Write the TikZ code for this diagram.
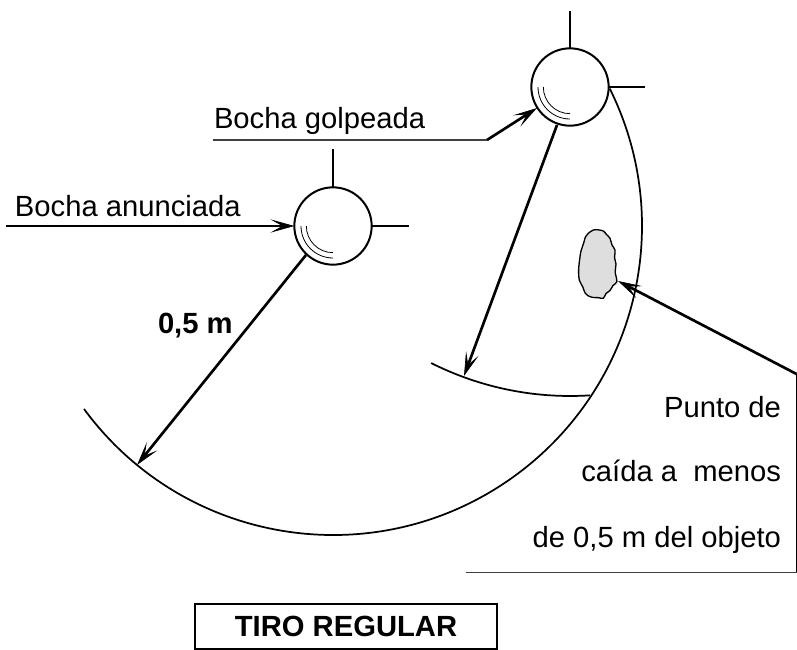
\documentclass[tikz,border=0pt]{standalone}
\usepackage{fontspec}
\setmainfont{Liberation Sans}
\usetikzlibrary{arrows.meta}
\tikzset{
  x=0.75pt,y=-0.75pt,
  ball/.style={circle,draw,line width=1.5pt,minimum size=58pt,inner sep=0pt,outer sep=0pt},
  tick/.style={line width=0.8pt},
  thin arc/.style={line width=1.3pt},
  sheen/.style={line width=0.6pt},
  lead/.style={line width=2pt,-{Stealth[length=18pt,width=10pt,inset=9pt,line width=0.5pt]}},
  leader/.style={line width=0.9pt,draw=black!75},
  lab/.style={inner sep=0pt,outer sep=0pt,font=\fontsize{21.9}{26}\selectfont,anchor=base west},
  labr/.style={lab,anchor=base east},
}
\begin{document}
\begin{tikzpicture}
\useasboundingbox (0,0) rectangle (797,650);
% balls
\node[ball] (b1) at (333,226) {};
\node[ball] (b2) at (570,87) {};
% ticks
\coordinate (t1) at (333,149); \coordinate (r1) at (409,226);
\coordinate (t2) at (570,11); \coordinate (r2) at (645,87);
\draw[tick] (b1.north) -- (t1);
\draw[tick] (b1.east) -- (r1);
\draw[tick] (b2.north) -- (t2);
\draw[tick] (b2.east) -- (r2);
% sheen
\draw[sheen] (b1.center) ++(180:24pt) arc (180:270:24pt);
\draw[sheen] (b1.center) ++(180:20pt) arc (180:270:20pt);
\draw[sheen] (b2.center) ++(180:24pt) arc (180:270:24pt);
\draw[sheen] (b2.center) ++(180:20pt) arc (180:270:20pt);
% big arcs
\draw[thin arc] (b1.center) ++(216.3:231.75pt) coordinate (A1s) arc (216.3:386.4:231.75pt) coordinate (A1e);
\draw[thin arc] (b2.center) ++(243.3:231.75pt) coordinate (A2s) arc (243.3:273.7:231.75pt) coordinate (A2e);
% radii
\coordinate (e1) at (137,465); \coordinate (s1) at (306,255);
\coordinate (e2) at (464,376); \coordinate (s2) at (557,125);
\draw[lead] (s1) -- (e1);
\draw[lead] (s2) -- (e2);
% leaders
\coordinate (ls1) at (6,226);
\draw[lead] (ls1) -- (b1.west);
\coordinate (l2a) at (213,140); \coordinate (l2b) at (487,140); \coordinate (l2c) at (537,108);
\draw[leader] (l2a) -- (l2b);
\draw[lead] (l2b) -- (l2c);
% blob
\draw[line width=1pt,fill=black!13] plot[smooth cycle,tension=0.5] coordinates {
 (593.3,230)(598,229.8)(603.3,231)(606.5,234.5)(610,238.3)(612,245)(615,250)(614.6,258)(616,264)(615.2,272)(616.9,281.7)(613,285.5)(610,290.5)(606,293.5)(603.3,298.3)(598,297.6)(593.3,297.5)(588.5,296)(585,292.8)(582.8,287)(579.3,280)(578.6,270)(579.6,260)(581,251)(583.6,243.3)(585.4,237)(588.3,233.3)};
% callout
\coordinate (p0) at (796.5,374); \coordinate (pt) at (618,281);
\coordinate (p1) at (796.5,572.5); \coordinate (p2) at (466,572.5);
\draw[lead] (p0) -- (pt);
\draw[tick] (p0) -- (p1);
\draw[leader] (p1) -- (p2);
% texts
\node[lab] (t_a) at (15,216) {Bocha anunciada};
\node[lab] (t_g) at (214,128) {Bocha golpeada};
\node[lab,font=\fontsize{21.9}{26}\selectfont\bfseries] (t_m) at (158,333) {0,5 m};
\node[labr] (t_p) at (781,417) {Punto de};
\node[labr] (t_c) at (781,481) {caída a\ \ menos};
\node[labr] (t_d) at (781,547) {de 0,5 m del objeto};
% box
\node[draw,line width=1.7pt,minimum width=226pt,minimum height=34pt,inner sep=0pt,font=\fontsize{21.9}{26}\selectfont\bfseries] (box) at (346,626.5) {TIRO REGULAR};
\end{tikzpicture}
\end{document}
